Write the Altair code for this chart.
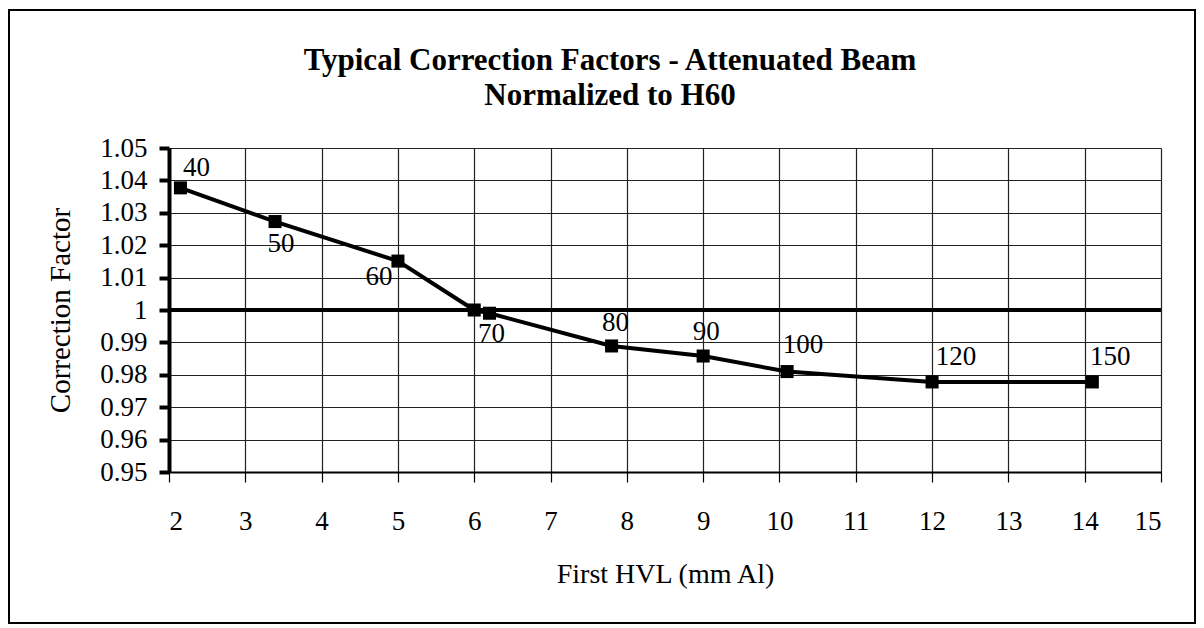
import altair as alt
import pandas as pd

# ---- data ----
hvl = [2.15, 3.39, 5.0, 6.0, 6.2, 7.8, 9.0, 10.1, 12.0, 14.1]
factor = [1.0377, 1.0273, 1.0151, 1.0, 0.999, 0.9889, 0.9858, 0.981, 0.9778, 0.9778]
kv_label = ["40", "50", "60", "", "70", "80", "90", "100", "120", "150"]

x_ticks = list(range(2, 16))
y_ticks = [0.95, 0.96, 0.97, 0.98, 0.99, 1.0, 1.01, 1.02, 1.03, 1.04, 1.05]

df = pd.DataFrame({"hvl": hvl, "factor": factor, "label": kv_label})

# label offsets (style)
label_offsets = {
    "40": (16, -20), "50": (6, 22), "60": (-19, 16), "70": (2, 21),
    "80": (4, -23), "90": (3, -24), "100": (16, -27), "120": (24, -25), "150": (18, -25),
}

FONT = "Liberation Serif"

xs = alt.X("hvl:Q", scale=alt.Scale(domain=[2, 15], nice=False, zero=False),
           axis=alt.Axis(values=x_ticks, tickCount=30, format="d", title="First HVL (mm Al)", grid=True,
                         labelOverlap=False, labelBound=False,
                         tickSize=10, tickWidth=1.2, tickColor="black",
                         domainColor="black", domainWidth=2,
                         labelPadding=26, titlePadding=26,
                         labelFontSize=27, titleFontSize=28,
                         labelFont=FONT, titleFont=FONT, titleFontWeight="normal",
                         labelColor="black", titleColor="black",
                         gridColor="#222222", gridWidth=1.2))
ys = alt.Y("factor:Q", scale=alt.Scale(domain=[0.95, 1.05], nice=False, zero=False),
           axis=alt.Axis(values=y_ticks, tickCount=30, title="Correction Factor", grid=True,
                         labelOverlap=False, labelBound=False,
                         labelExpr="datum.value == 1 ? '1' : format(datum.value, '.2f')",
                         tickSize=10, tickWidth=4, tickColor="black",
                         domainColor="black", domainWidth=4,
                         labelPadding=12, titleX=-109, titleBaseline="middle",
                         labelFontSize=27, titleFontSize=29,
                         labelFont=FONT, titleFont=FONT, titleFontWeight="normal",
                         labelColor="black", titleColor="black",
                         gridColor="#222222", gridWidth=1.2))

base = alt.Chart(df)

line = base.mark_line(color="black", strokeWidth=4).encode(x=xs, y=ys)
pts = base.mark_point(shape="square", filled=True, color="black", size=170, opacity=1).encode(x="hvl:Q", y="factor:Q")
one = alt.Chart(pd.DataFrame({"v": [1.0]})).mark_rule(color="black", strokeWidth=4).encode(y="v:Q")

frame = alt.Chart(pd.DataFrame({"a": [0]})).mark_rect(
    fill="white", fillOpacity=0, stroke="black", strokeWidth=2
).encode(x=alt.value(-160), x2=alt.value(1026), y=alt.value(-138), y2=alt.value(475))

layers = [frame, one, line, pts]
for lab, (dx, dy) in label_offsets.items():
    layers.append(
        base.transform_filter(alt.datum.label == lab).mark_text(
            font=FONT, fontSize=27, color="black", dx=dx, dy=dy,
            align="center", baseline="middle"
        ).encode(x="hvl:Q", y="factor:Q", text="label:N")
    )

chart = alt.layer(*layers).properties(
    width=992, height=324,
    autosize=alt.AutoSizeParams(type="none"),
    padding={"left": 161, "top": 140, "right": 35, "bottom": 153},
    title=alt.TitleParams(
        text=["Typical Correction Factors - Attenuated Beam", "Normalized to H60"],
        font=FONT, fontSize=31, fontWeight="bold", lineHeight=35,
        anchor="middle", frame="group", dx=-55, offset=-103, color="black",
    ),
).configure_view(stroke="black", strokeWidth=1.2).configure(background="white")

chart.save("out.html", embed_options={"renderer": "svg", "actions": False})
